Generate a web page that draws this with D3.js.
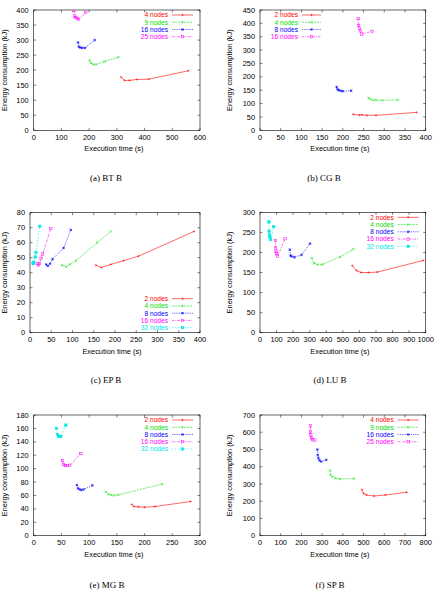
<!DOCTYPE html>
<html>
<head>
<meta charset="utf-8">
<script src="https://cdn.jsdelivr.net/npm/d3@7"></script>
<style>
  body { margin: 0; background: #fff; }
  svg text { font-family: "Liberation Sans", Arial, sans-serif; }
</style>
</head>
<body>
<div id="chart"></div>
<script>
const width = 437;
const height = 594;

// Execution time (s), energy (kJ) pairs
const btLabels = ["4 nodes", "9 nodes", "16 nodes", "25 nodes"];
const btSeries = [
  [[315, 177], [328, 166], [346, 166], [372, 169], [415, 170], [558, 198]],
  [[201, 233], [207, 224], [214, 219], [225, 219], [256, 229], [306, 243]],
  [[160, 292], [163, 278], [168, 275], [175, 274], [185, 274], [220, 300]],
  [[145, 398], [148, 380], [152, 375], [157, 372], [162, 369], [188, 392]]
];
const cgLabels = ["2 nodes", "4 nodes", "8 nodes", "16 nodes"];
const cgSeries = [
  [[225, 60], [240, 57], [246, 58], [258, 56], [280, 56], [378, 67]],
  [[262, 122], [265, 117], [272, 113], [280, 113], [295, 112], [333, 114]],
  [[185, 162], [187, 153], [190, 150], [195, 148], [200, 146], [220, 148]],
  [[237, 418], [238, 393], [240, 382], [242, 372], [246, 360], [271, 370]]
];
const epLabels = ["2 nodes", "4 nodes", "8 nodes", "16 nodes", "32 nodes"];
const epSeries = [
  [[155, 45], [168, 43.5], [190, 45.5], [220, 48], [255, 51], [386, 67.5]],
  [[75, 45], [85, 44], [94, 45.5], [108, 48], [158, 60], [190, 67.5]],
  [[38, 45.5], [42, 44.5], [47, 46], [53, 49], [79, 56.5], [96, 68.5]],
  [[17, 46], [20, 45], [22, 46], [26, 49.5], [30, 52.5], [49, 69.5]],
  [[7, 46.5], [8, 46], [9, 47], [12, 50.5], [14, 53.5], [23, 71]]
];
const luLabels = ["2 nodes", "4 nodes", "8 nodes", "16 nodes", "32 nodes"];
const luSeries = [
  [[557, 167], [583, 155], [610, 150], [655, 150], [708, 151], [985, 180]],
  [[312, 186], [326, 173], [346, 170], [376, 170], [483, 189], [563, 208]],
  [[180, 207], [184, 192], [192, 190], [208, 188], [251, 194], [302, 222]],
  [[93, 230], [94, 211], [97, 202], [101, 197], [106, 191], [151, 234]],
  [[54, 276], [55, 253], [57, 244], [60, 238], [65, 232], [83, 264]]
];
const mgLabels = ["2 nodes", "4 nodes", "8 nodes", "16 nodes", "32 nodes"];
const mgSeries = [
  [[177, 46.5], [181, 43.5], [189, 43], [200, 42.5], [219, 43.5], [283, 51]],
  [[130, 65.5], [135, 62], [140, 60.5], [146, 60], [153, 61], [232, 77]],
  [[78, 75.5], [80, 70.5], [83, 69], [86, 68], [90, 69], [106, 75]],
  [[52, 112], [54, 106], [57, 104.5], [61, 104.5], [65, 105], [85, 122.5]],
  [[41, 160], [43, 151], [45, 148], [47, 148], [49, 148], [58, 165]]
];
const spLabels = ["4 nodes", "9 nodes", "16 nodes", "25 nodes"];
const spSeries = [
  [[492, 267], [500, 245], [515, 236], [550, 230], [605, 236], [708, 252]],
  [[338, 379], [341, 352], [349, 342], [365, 333], [386, 329], [455, 331]],
  [[277, 500], [279, 468], [282, 450], [287, 437], [295, 430], [320, 440]],
  [[243, 637], [244, 605], [245, 585], [248, 567], [253, 557], [265, 555]]
];

const colors = ["#ff0000", "#00e000", "#0000ff", "#ff00ff", "#00e8e8"];
const dashes = [null, "2,1", "1.2,1", "2.5,1,0.8,1", "1.5,1.5"];

const panels = [
  { caption: "(a) BT B", labels: btLabels, series: btSeries, x: [0, 600, 100], y: [0, 400, 50],
    box: [33.7, 200, 10, 130.3], cap: [106, 181], key: "right-top" },
  { caption: "(b) CG B", labels: cgLabels, series: cgSeries, x: [0, 400, 50], y: [0, 450, 50],
    box: [260, 425.7, 10, 130.3], cap: [324, 181], key: "left-top" },
  { caption: "(c) EP B", labels: epLabels, series: epSeries, x: [0, 400, 50], y: [0, 80, 10],
    box: [30, 200, 212.7, 332.7], cap: [106, 383], key: "right-bottom" },
  { caption: "(d) LU B", labels: luLabels, series: luSeries, x: [0, 1000, 100], y: [0, 300, 50],
    box: [260, 425.7, 212.3, 332.7], cap: [330, 383], key: "right-top" },
  { caption: "(e) MG B", labels: mgLabels, series: mgSeries, x: [0, 300, 50], y: [0, 180, 20],
    box: [33.7, 200, 415, 535.7], cap: [107, 588], key: "right-top" },
  { caption: "(f) SP B", labels: spLabels, series: spSeries, x: [0, 800, 100], y: [0, 700, 100],
    box: [260, 425.7, 415, 535.7], cap: [330, 588], key: "right-top" }
];

const svg = d3.select("#chart").append("svg")
  .attr("width", width)
  .attr("height", height);

// gnuplot style point types: +, x, *, open square, filled square
function marker(g, type, x, y, color) {
  const s = 1.2;
  const m = g.append("g").attr("transform", `translate(${x},${y})`)
    .attr("stroke", color).attr("stroke-width", 0.5).attr("fill", "none");
  if (type === 0 || type === 2) {
    m.append("path").attr("d", `M${-s},0H${s}M0,${-s}V${s}`);
  }
  if (type === 1 || type === 2) {
    m.append("path").attr("d", `M${-s},${-s}L${s},${s}M${-s},${s}L${s},${-s}`);
  }
  if (type === 3) {
    m.append("rect").attr("x", -s).attr("y", -s).attr("width", 2 * s).attr("height", 2 * s);
  }
  if (type === 4) {
    m.append("rect").attr("x", -s).attr("y", -s).attr("width", 2 * s).attr("height", 2 * s)
      .attr("fill", color);
  }
}

panels.forEach((p, pi) => {
  const [l, r, t, b] = p.box;
  const g = svg.append("g");
  const x = d3.scaleLinear().domain([p.x[0], p.x[1]]).range([l, r]);
  const y = d3.scaleLinear().domain([p.y[0], p.y[1]]).range([b, t]);
  const xt = d3.range(p.x[0], p.x[1] + 1e-9, p.x[2]);
  const yt = d3.range(p.y[0], p.y[1] + 1e-9, p.y[2]);

  // inward ticks on all four sides
  const tl = 2.5;
  xt.forEach(v => {
    g.append("line").attr("x1", x(v)).attr("x2", x(v)).attr("y1", b).attr("y2", b - tl)
      .attr("stroke", "#000").attr("stroke-width", 0.5);
    g.append("line").attr("x1", x(v)).attr("x2", x(v)).attr("y1", t).attr("y2", t + tl)
      .attr("stroke", "#000").attr("stroke-width", 0.5);
    g.append("text").attr("x", x(v)).attr("y", b + 9.5)
      .attr("text-anchor", "middle").attr("font-size", 7.4).text(v);
  });
  yt.forEach(v => {
    g.append("line").attr("x1", l).attr("x2", l + tl).attr("y1", y(v)).attr("y2", y(v))
      .attr("stroke", "#000").attr("stroke-width", 0.5);
    g.append("line").attr("x1", r).attr("x2", r - tl).attr("y1", y(v)).attr("y2", y(v))
      .attr("stroke", "#000").attr("stroke-width", 0.5);
    g.append("text").attr("x", l - 5).attr("y", y(v) + 2.6)
      .attr("text-anchor", "end").attr("font-size", 7.4).text(v);
  });

  g.append("rect").attr("x", l).attr("y", t).attr("width", r - l).attr("height", b - t)
    .attr("fill", "none").attr("stroke", "#000").attr("stroke-width", 0.6);

  g.append("text").attr("x", (l + r) / 2 - 3).attr("y", b + 21)
    .attr("text-anchor", "middle").attr("font-size", 7.4).text("Execution time (s)");
  const ylx = l < 100 ? 6.8 : 231.5;
  g.append("text").attr("transform", `translate(${ylx},${(t + b) / 2}) rotate(-90)`)
    .attr("text-anchor", "middle").attr("font-size", 7.4).text("Energy consumption (kJ)");

  g.append("text").attr("x", p.cap[0]).attr("y", p.cap[1])
    .attr("text-anchor", "middle").attr("font-size", 9)
    .style("font-family", "'Liberation Serif', 'DejaVu Serif', serif")
    .text(p.caption);

  const clipId = "clip" + pi;
  g.append("clipPath").attr("id", clipId).append("rect")
    .attr("x", l).attr("y", t).attr("width", r - l).attr("height", b - t);
  const plot = g.append("g").attr("clip-path", `url(#${clipId})`);

  const line = d3.line().x(d => x(d[0])).y(d => y(d[1]));
  p.series.forEach((s, si) => {
    plot.append("path").datum(s).attr("d", line)
      .attr("fill", "none").attr("stroke", colors[si]).attr("stroke-width", 0.6)
      .attr("stroke-dasharray", dashes[si]);
    s.forEach(d => marker(plot, si, x(d[0]), y(d[1]), colors[si]));
  });

  // key
  const n = p.labels.length;
  const step = 7.25;
  p.labels.forEach((lab, i) => {
    let ky, tx, s0, s1;
    if (p.key === "right-bottom") ky = b - 5 - (n - 1 - i) * step;
    else ky = t + 5 + i * step;
    if (p.key === "left-top") { tx = l + 38; s0 = l + 42; s1 = l + 61; }
    else { tx = r - 32; s0 = r - 28; s1 = r - 7; }
    g.append("text").attr("x", tx).attr("y", ky + 2.4).attr("text-anchor", "end")
      .attr("font-size", 6.6).attr("fill", colors[i]).text(lab);
    g.append("line").attr("x1", s0).attr("x2", s1).attr("y1", ky).attr("y2", ky)
      .attr("stroke", colors[i]).attr("stroke-width", 0.6).attr("stroke-dasharray", dashes[i]);
    marker(g, i, (s0 + s1) / 2, ky, colors[i]);
  });
});
</script>
</body>
</html>
